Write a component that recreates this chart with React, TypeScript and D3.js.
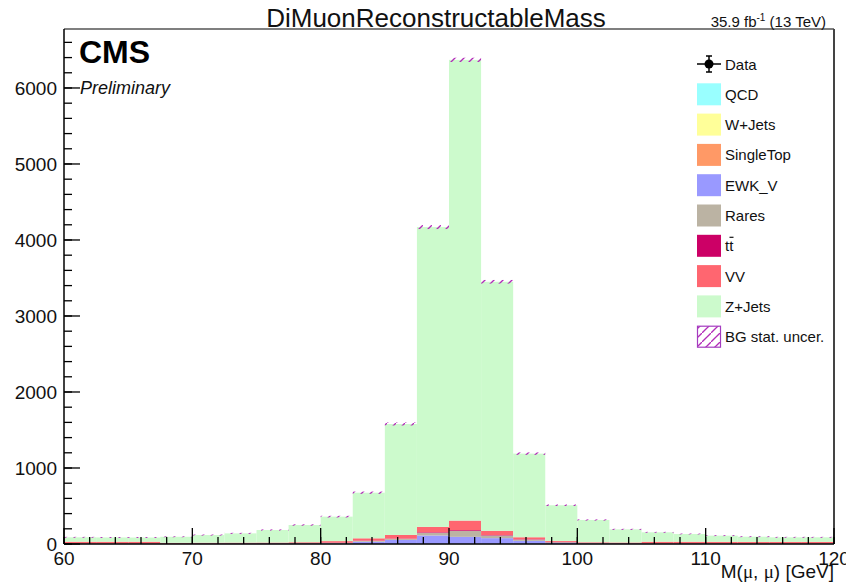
import React from "react";
import * as d3 from "d3";

// bin edges of the histogram (GeV)
const binEdges = [
  60, 62.5, 65, 67.5, 70, 72.5, 75, 77.5, 80, 82.5, 85, 87.5, 90,
  92.5, 95, 97.5, 100, 102.5, 105, 107.5, 110, 112.5, 115, 117.5, 120,
];

// per-bin event counts
const qcd = [0, 0, 0, 0, 0, 0, 0, 0, 0, 0, 0, 0, 0, 0, 0, 0, 0, 0, 0, 0, 0, 0, 0, 0];
const wJets = [0, 0, 0, 0, 0, 0, 0, 0, 0, 0, 0, 1, 1, 1, 0, 0, 0, 0, 0, 0, 0, 0, 0, 0];
const singleTop = [0, 0, 0, 0, 0, 0, 0, 0, 0, 0, 1, 1, 1, 1, 1, 0, 0, 0, 0, 0, 0, 0, 0, 0];
const ewkV = [2, 2, 2, 2, 3, 3, 4, 5, 8, 30, 53, 110, 92, 75, 40, 15, 6, 4, 3, 3, 2, 2, 2, 2];
const rares = [1, 1, 1, 1, 1, 2, 2, 3, 5, 10, 13, 35, 79, 35, 17, 8, 4, 3, 2, 2, 2, 1, 1, 1];
const ttbar = [5, 5, 5, 5, 5, 5, 5, 5, 5, 5, 5, 8, 10, 6, 5, 5, 5, 5, 5, 5, 5, 5, 5, 5];
const vv = [22, 22, 22, 8, 8, 8, 8, 10, 20, 30, 47, 70, 125, 55, 26, 12, 8, 8, 20, 20, 20, 20, 20, 20];
const zJets = [58, 56, 55, 79, 101, 122, 165, 227, 322, 600, 1460, 3945, 6062, 3277, 1100, 470, 293, 173, 124, 102, 81, 68, 60, 60];
const statUnc = [6, 6, 6, 6, 7, 7, 8, 9, 11, 15, 20, 26, 28, 24, 16, 10, 8, 7, 6, 6, 6, 6, 6, 6];

const seriesNames = ["QCD", "W+Jets", "SingleTop", "EWK_V", "Rares", "ttbar", "VV", "Z+Jets"];
const seriesColors = ["#99ffff", "#ffff99", "#ff9966", "#9999ff", "#bbb3a3", "#cc0066", "#ff6670", "#ccfacc"];
const seriesValues = [qcd, wJets, singleTop, ewkV, rares, ttbar, vv, zJets];

const xTicks = [60, 70, 80, 90, 100, 110, 120];
const yTicks = [0, 1000, 2000, 3000, 4000, 5000, 6000];

const W = 846;
const H = 587;
const frame = { left: 64, right: 834, top: 29, bottom: 544 };
const font = "'Liberation Sans', Arial, Helvetica, sans-serif";

export default function App() {
  const x = d3.scaleLinear().domain([60, 120]).range([frame.left, frame.right]);
  const y = d3.scaleLinear().domain([0, 6776]).range([frame.bottom, frame.top]);

  const rows = binEdges.slice(0, -1).map((lo, i) => {
    const r: any = { lo, hi: binEdges[i + 1] };
    seriesNames.forEach((n, k) => (r[n] = seriesValues[k][i]));
    return r;
  });
  const stacked = d3.stack().keys(seriesNames)(rows);
  const totals = rows.map((r) => d3.sum(seriesNames, (n) => r[n]));

  const xMinor = d3.range(60, 120.01, 2);
  const yMinor = d3.range(0, 6700, 200);

  const legendItems = ["QCD", "W+Jets", "SingleTop", "EWK_V", "Rares", "ttbar", "VV", "Z+Jets"];
  const legY = d3.scaleLinear().domain([0, 1]).range([64, 94.3]);

  return (
    <svg width={W} height={H} style={{ position: "absolute", left: 0, top: 0, background: "#fff" }}>
      <defs>
        <pattern id="hatch" patternUnits="userSpaceOnUse" width={9} height={9}>
          <line x1={0} y1={9} x2={9} y2={0} stroke="#b22cb8" strokeWidth={1.3} />
        </pattern>
        <clipPath id="frameClip">
          <rect x={frame.left} y={frame.top} width={frame.right - frame.left} height={frame.bottom - frame.top} />
        </clipPath>
      </defs>

      {/* stacked histograms */}
      <g clipPath="url(#frameClip)">
        {stacked.map((layer, k) => (
          <g key={layer.key} fill={seriesColors[k]}>
            {layer.map((d: any, i) =>
              d[1] - d[0] > 0 ? (
                <rect
                  key={i}
                  x={x(d.data.lo)}
                  width={x(d.data.hi) - x(d.data.lo)}
                  y={y(d[1])}
                  height={y(d[0]) - y(d[1])}
                />
              ) : null
            )}
          </g>
        ))}
        {/* stat uncertainty band */}
        {rows.map((r, i) => (
          <rect
            key={i}
            x={x(r.lo)}
            width={x(r.hi) - x(r.lo)}
            y={y(totals[i] + statUnc[i])}
            height={y(totals[i] - statUnc[i]) - y(totals[i] + statUnc[i])}
            fill="url(#hatch)"
          />
        ))}
      </g>

      {/* frame */}
      <line x1={frame.left} x2={frame.right} y1={frame.top} y2={frame.top} stroke="#000" strokeWidth={1.2} />
      <line x1={frame.right} x2={frame.right} y1={frame.top} y2={frame.bottom} stroke="#444" strokeWidth={2} />
      <line x1={frame.left} x2={frame.left} y1={frame.top} y2={frame.bottom} stroke="#000" strokeWidth={1.5} />
      <line x1={frame.left} x2={frame.right} y1={frame.bottom} y2={frame.bottom} stroke="#000" strokeWidth={1.5} />

      {/* x axis ticks */}
      {xMinor.map((v) => (
        <line key={"xm" + v} x1={x(v)} x2={x(v)} y1={frame.bottom} y2={frame.bottom - 7} stroke="#000" strokeWidth={1.3} />
      ))}
      {xTicks.map((v) => (
        <g key={"x" + v}>
          <line x1={x(v)} x2={x(v)} y1={frame.bottom} y2={frame.bottom - 16} stroke="#000" strokeWidth={1.3} />
          <text x={x(v)} y={565} textAnchor="middle" fontFamily={font} fontSize={19} fill="#111">
            {v}
          </text>
        </g>
      ))}

      {/* y axis ticks */}
      {yMinor.map((v) => (
        <line key={"ym" + v} x1={frame.left} x2={frame.left + 8} y1={y(v)} y2={y(v)} stroke="#000" strokeWidth={1.3} />
      ))}
      {yTicks.map((v) => (
        <g key={"y" + v}>
          <line x1={frame.left} x2={frame.left + 16} y1={y(v)} y2={y(v)} stroke="#000" strokeWidth={1.3} />
          <text x={57} y={y(v) + 7} textAnchor="end" fontFamily={font} fontSize={19} fill="#111">
            {v}
          </text>
        </g>
      ))}

      {/* axis title */}
      <text x={frame.right} y={578} textAnchor="end" fontFamily={font} fontSize={19} fill="#111">
        M(<tspan fontFamily="'Liberation Serif', serif">μ</tspan>, <tspan fontFamily="'Liberation Serif', serif">μ</tspan>) [GeV]
      </text>

      {/* titles */}
      <text x={436} y={27} textAnchor="middle" fontFamily={font} fontSize={26} fill="#111">
        DiMuonReconstructableMass
      </text>
      <text x={826} y={27} textAnchor="end" fontFamily={font} fontSize={15} fill="#111">
        35.9 fb<tspan dy={-6} fontSize={10}>-1</tspan>
        <tspan dy={6}> (13 TeV)</tspan>
      </text>
      <text x={79} y={63} fontFamily={font} fontSize={32} fontWeight="bold" fill="#000">
        CMS
      </text>
      <text x={80} y={94} fontFamily={font} fontSize={18} fontStyle="italic" fill="#111">
        Preliminary
      </text>

      {/* legend */}
      <g fontFamily={font} fontSize={15} fill="#111">
        <g>
          <line x1={697} x2={721} y1={legY(0)} y2={legY(0)} stroke="#000" strokeWidth={1.5} />
          <line x1={709} x2={709} y1={legY(0) - 8} y2={legY(0) + 8} stroke="#000" strokeWidth={1.5} />
          <line x1={706} x2={712} y1={legY(0) - 8} y2={legY(0) - 8} stroke="#000" strokeWidth={1.5} />
          <line x1={706} x2={712} y1={legY(0) + 8} y2={legY(0) + 8} stroke="#000" strokeWidth={1.5} />
          <circle cx={709} cy={legY(0)} r={4.5} fill="#000" />
          <text x={725} y={legY(0) + 5.5}>Data</text>
        </g>
        {legendItems.map((name, i) => {
          const k = seriesNames.indexOf(name);
          const cy = legY(i + 1);
          return (
            <g key={name}>
              <rect x={697} y={cy - 11} width={24} height={22} fill={seriesColors[k]} />
              {name === "ttbar" ? (
                <g>
                  <text x={725} y={cy + 5.5}>tt</text>
                  <line x1={729.5} x2={733.5} y1={cy - 8.5} y2={cy - 8.5} stroke="#111" strokeWidth={1.2} />
                </g>
              ) : (
                <text x={725} y={cy + 5.5}>{name}</text>
              )}
            </g>
          );
        })}
        <g>
          <rect x={697.5} y={legY(9) - 10.5} width={23} height={21} fill="url(#hatch)" stroke="#a43cc0" strokeWidth={1.2} />
          <text x={725} y={legY(9) + 5.5}>BG stat. uncer.</text>
        </g>
      </g>
    </svg>
  );
}
